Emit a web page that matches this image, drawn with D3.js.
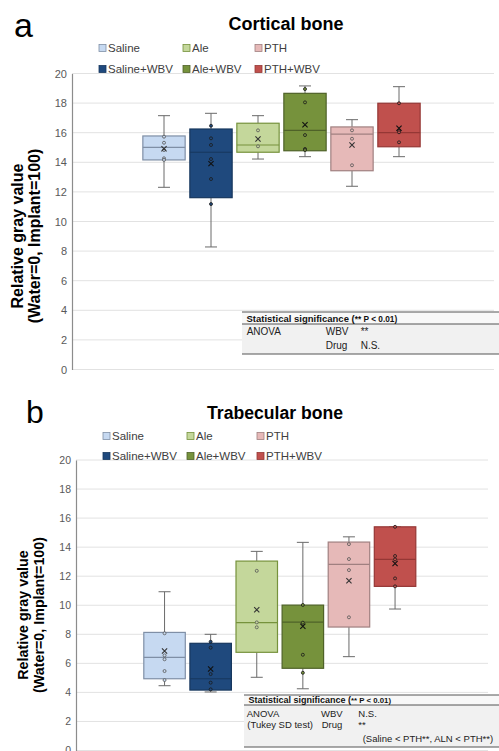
<!DOCTYPE html>
<html>
<head>
<meta charset="utf-8">
<script src="https://cdn.jsdelivr.net/npm/d3@7"></script>
<style>
  body { margin: 0; background: #fff; }
  svg { display: block; font-family: "Liberation Sans", Arial, sans-serif; }
</style>
</head>
<body>
<svg id="chart" width="499" height="751"></svg>
<script>
// groups, legend order and colours
const groups = ["Saline", "Saline+WBV", "Ale", "Ale+WBV", "PTH", "PTH+WBV"];
const fills = ["#c6d9f1", "#1f497d", "#c4d79b", "#76923c", "#e6b9b8", "#c0504d"];
const strokes = ["#7f8fa6", "#17375e", "#76923c", "#4f6228", "#a08080", "#953735"];
const yTicks = d3.range(0, 21, 2);

// cortical bone: [whisker low, q1, median, q3, whisker high]
const corticalBox = [
  [12.31, 14.16, 15.01, 15.78, 17.15],
  [8.28, 11.61, 14.68, 16.25, 17.31],
  [14.22, 14.68, 15.17, 16.64, 17.15],
  [14.38, 14.78, 16.16, 18.66, 19.16],
  [12.38, 13.43, 15.91, 16.39, 16.88],
  [14.38, 15.05, 16.0, 17.99, 19.11]
];
const corticalMean = [14.92, 13.91, 15.57, 16.54, 15.17, 16.3];
const corticalPoints = [
  [15.73, 15.32, 14.83, 14.27, 14.16],
  [16.47, 15.62, 15.17, 14.22, 12.87, 11.18],
  [16.16, 15.08],
  [18.95, 18.05, 15.84, 14.9, 14.83],
  [16.16, 15.59, 13.8],
  [17.99, 16.14, 16.03, 15.35]
];

// trabecular bone
const trabecularBox = [
  [4.46, 4.94, 6.41, 8.13, 10.93],
  [4.03, 4.16, 4.94, 7.38, 8.0],
  [5.04, 6.76, 8.8, 13.04, 13.71],
  [4.25, 5.66, 8.84, 10.01, 14.33],
  [6.46, 8.5, 12.81, 14.35, 14.71],
  [9.74, 11.3, 13.16, 15.4, 15.4]
];
const trabecularMean = [6.85, 5.61, 9.69, 8.55, 11.69, 12.88];
const trabecularPoints = [
  [8.07, 6.55, 6.28, 5.47, 4.85],
  [7.49, 7.08, 5.26, 4.67, 4.21],
  [12.37, 8.82, 8.48],
  [10.02, 8.8, 6.59, 5.35],
  [14.21, 13.18, 12.42, 9.17],
  [15.4, 13.39, 13.16, 11.85, 11.3]
];

const tableCortical = {
  rows: [
    { y: 23, cells: [["ANOVA", 4.7], ["WBV", 83.7], ["**", 118.7]] },
    { y: 37, cells: [["Drug", 83.7], ["N.S.", 118.7]] }
  ]
};
const tableTrabecular = {
  rows: [
    { y: 22, cells: [["ANOVA", 2.7], ["WBV", 77], ["N.S.", 114.3]] },
    { y: 32.5, cells: [["(Tukey SD test)", 3.3], ["Drug", 77.7], ["**", 114.3]] },
    { y: 47, cells: [["(Saline < PTH**, ALN < PTH**)", 118.7]] }
  ]
};

const svg = d3.select("#chart");

function drawPanel(p) {
  const g = svg.append("g");
  const y = d3.scaleLinear().domain([0, 20]).range([p.yBottom, p.yTop]);
  const x = d3.scaleBand().domain(groups).range(p.band).paddingInner(0.1).paddingOuter(0.05);

  // letter + title
  g.append("text").attr("x", p.letter[0]).attr("y", p.letter[1])
    .attr("font-size", p.letterSize).attr("fill", "#000").text(p.letterText);
  g.append("text").attr("x", p.title[0]).attr("y", p.title[1])
    .attr("text-anchor", "middle").attr("font-weight", "bold")
    .attr("font-size", p.titleSize).text(p.titleText);

  // gridlines
  g.append("g").selectAll("line").data(yTicks).join("line")
    .attr("x1", p.left).attr("x2", p.right)
    .attr("y1", d => y(d)).attr("y2", d => y(d))
    .attr("stroke", "#e2e2e2").attr("stroke-width", 1);

  // y axis
  const ax = g.append("g").attr("transform", `translate(${p.left},0)`)
    .call(d3.axisLeft(y).tickValues(yTicks).tickSize(0).tickPadding(p.tickPad));
  ax.select(".domain").attr("stroke", "#8c8c8c").attr("stroke-width", 1.2);
  ax.selectAll("text").attr("fill", "#595959").attr("font-size", p.tickSize)
    .attr("font-family", "Liberation Sans, Arial, sans-serif");

  // y title
  p.yTitleLines.forEach((t, i) => {
    g.append("text")
      .attr("transform", `translate(${p.yTitleX[i]},${p.yTitleY}) rotate(-90)`)
      .attr("text-anchor", "middle").attr("dominant-baseline", "central")
      .attr("font-weight", "bold").attr("font-size", p.yTitleSize).text(t);
  });

  // legend
  const leg = g.append("g");
  groups.forEach((name, i) => {
    const col = Math.floor(i / 2), row = i % 2;
    const lx = p.legendX + p.legendCols[col];
    const ly = p.legendRows[row];
    leg.append("rect").attr("x", lx).attr("y", ly - 3.5).attr("width", 7).attr("height", 7)
      .attr("fill", fills[i]).attr("stroke", strokes[i]).attr("stroke-width", 0.8);
    leg.append("text").attr("x", lx + 9).attr("y", ly).attr("dominant-baseline", "central")
      .attr("font-size", 11.5).attr("fill", "#404040").text(name);
  });

  // boxes
  const bw = x.bandwidth();
  const cap = 12;
  groups.forEach((name, i) => {
    const [lo, q1, med, q3, hi] = p.box[i];
    const cx = x(name) + bw / 2;
    const bg = g.append("g");
    const wc = "#6a6a6a";
    bg.append("line").attr("x1", cx).attr("x2", cx).attr("y1", y(hi)).attr("y2", y(q3)).attr("stroke", wc);
    bg.append("line").attr("x1", cx).attr("x2", cx).attr("y1", y(q1)).attr("y2", y(lo)).attr("stroke", wc);
    bg.append("line").attr("x1", cx - cap / 2).attr("x2", cx + cap / 2).attr("y1", y(hi)).attr("y2", y(hi)).attr("stroke", wc);
    bg.append("line").attr("x1", cx - cap / 2).attr("x2", cx + cap / 2).attr("y1", y(lo)).attr("y2", y(lo)).attr("stroke", wc);
    bg.append("rect").attr("x", x(name)).attr("y", y(q3)).attr("width", bw).attr("height", y(q1) - y(q3))
      .attr("fill", fills[i]).attr("stroke", strokes[i]).attr("stroke-width", 1.2);
    bg.append("line").attr("x1", x(name)).attr("x2", x(name) + bw).attr("y1", y(med)).attr("y2", y(med))
      .attr("stroke", strokes[i]).attr("stroke-width", 1.2);
    const dark = i % 2 === 1;
    bg.selectAll("circle").data(p.points[i]).join("circle")
      .attr("cx", cx).attr("cy", d => y(d)).attr("r", 1.5)
      .attr("fill", fills[i]).attr("stroke", dark ? "#1a1a1a" : "#555").attr("stroke-width", 0.8);
    const m = y(p.mean[i]), s = 2.6;
    const mc = dark ? "#111" : "#333";
    bg.append("path").attr("d", `M${cx - s},${m - s}L${cx + s},${m + s}M${cx - s},${m + s}L${cx + s},${m - s}`)
      .attr("stroke", mc).attr("stroke-width", 1.1);
  });

  // table
  const t = p.table;
  const tg = g.append("g").attr("transform", `translate(${t.x},${t.y})`);
  tg.append("rect").attr("x", 0).attr("y", 0).attr("width", t.w).attr("height", t.h).attr("fill", "#f1f1f1");
  tg.append("rect").attr("x", 0).attr("y", 0).attr("width", t.w).attr("height", t.headH).attr("fill", "#f8f8f8");
  [0, t.headH, t.h].forEach(ly => {
    tg.append("line").attr("x1", 0).attr("x2", t.w).attr("y1", ly).attr("y2", ly)
      .attr("stroke", "#555").attr("stroke-width", 1);
  });
  const head = tg.append("text").attr("x", 4.5).attr("y", t.headBase)
    .attr("font-weight", "bold").attr("font-size", t.headSize).attr("fill", "#111");
  head.append("tspan").text("Statistical significance (");
  head.append("tspan").attr("font-size", t.headSize - 1.2).text("** P < 0.01)");
  t.rows.forEach(r => {
    r.cells.forEach(([txt, cx]) => {
      tg.append("text").attr("x", cx).attr("y", r.y)
        .attr("font-size", t.rowSize).attr("fill", "#222").text(txt);
    });
  });
}

drawPanel({
  letterText: "a", letter: [14, 37], letterSize: 34,
  titleText: "Cortical bone", title: [286, 30], titleSize: 18,
  left: 72, right: 494, yTop: 73.5, yBottom: 369.5,
  band: [140.5, 422.5],
  tickSize: 11, tickPad: 5,
  yTitleLines: ["Relative gray value", "(Water=0, Implant=100)"],
  yTitleX: [17, 34], yTitleY: 236, yTitleSize: 16,
  legendX: 99, legendCols: [0, 84, 156], legendRows: [48, 69],
  box: corticalBox, mean: corticalMean, points: corticalPoints,
  table: Object.assign({ x: 242, y: 312, w: 257, h: 42, headH: 12, headBase: 9.5, headSize: 9.5, rowSize: 10 }, tableCortical)
});

drawPanel({
  letterText: "b", letter: [26, 423], letterSize: 32,
  titleText: "Trabecular bone", title: [275, 419], titleSize: 17.6,
  left: 76, right: 488, yTop: 460, yBottom: 750.5,
  band: [141.5, 418.1],
  tickSize: 10.5, tickPad: 5,
  yTitleLines: ["Relative gray value", "(Water=0, Implant=100)"],
  yTitleX: [23, 39], yTitleY: 615, yTitleSize: 14.3,
  legendX: 103, legendCols: [0, 84, 154], legendRows: [436, 456],
  box: trabecularBox, mean: trabecularMean, points: trabecularPoints,
  table: Object.assign({ x: 244, y: 695, w: 255, h: 52, headH: 10, headBase: 7.8, headSize: 9, rowSize: 9.5 }, tableTrabecular)
});
</script>
</body>
</html>
